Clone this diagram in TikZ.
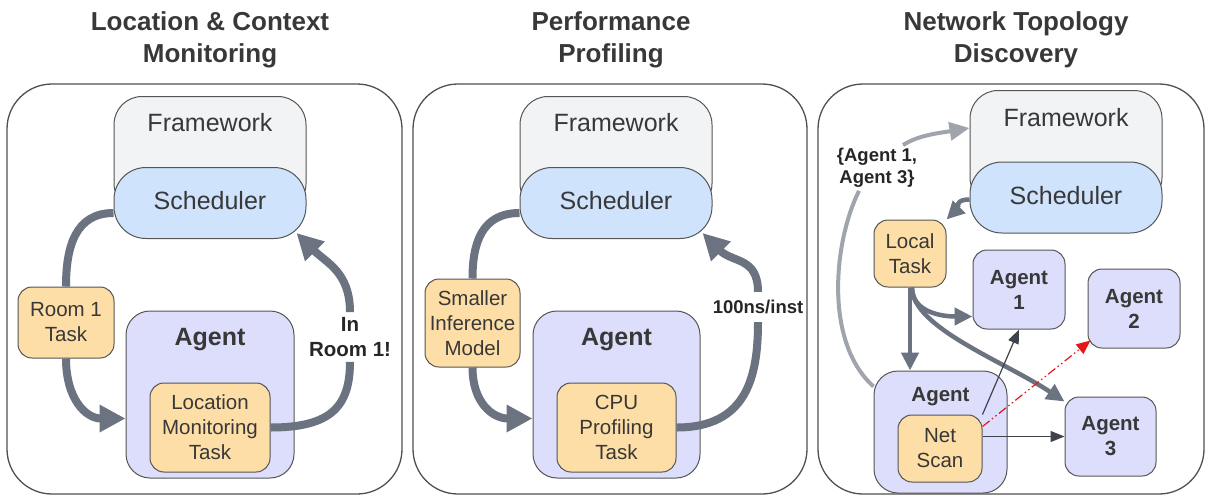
\documentclass[tikz,border=0pt]{standalone}
\usepackage{fontspec}
\setmainfont{Liberation Sans}
\usetikzlibrary{arrows.meta}
\definecolor{fwgray}{HTML}{F2F3F5}
\definecolor{schblue}{HTML}{CFE3FD}
\definecolor{taskorange}{HTML}{FDDEA6}
\definecolor{agentlav}{HTML}{DDDDFC}
\definecolor{boxline}{HTML}{555555}
\definecolor{panelline}{HTML}{505050}
\definecolor{txt}{HTML}{383838}
\definecolor{arrowgray}{HTML}{6B7280}
\definecolor{lightarrow}{HTML}{A0A5AD}
\definecolor{probeline}{HTML}{3F444C}
\definecolor{lostred}{HTML}{E8161B}
\newcommand{\titlefont}{\fontsize{26}{32}\selectfont\bfseries}
\newcommand{\boxfont}{\fontsize{25}{30}\selectfont}
\newcommand{\taskfont}{\fontsize{20.5}{25}\selectfont}
\newcommand{\lblfont}{\fontsize{18.5}{22}\selectfont\bfseries}

\begin{document}
\begin{tikzpicture}[x=1pt,y=-1pt,
  titletext/.style={align=center,font=\titlefont,text=txt,inner sep=0pt},
  panel/.style={draw=panelline,line width=1.3pt,rounded corners=45pt},
  fwbox/.style={draw=boxline,fill=fwgray,line width=1pt,rounded corners=28pt,
    minimum width=192pt,minimum height=115pt,anchor=north,
    label={[anchor=north,yshift=#1,inner sep=0pt,font=\boxfont,text=txt]north:Framework}},
  fwbox/.default=-17pt,
  schbox/.style={draw=boxline,fill=schblue,line width=1pt,rounded corners=32pt,
    minimum width=192pt,minimum height=71pt,font=\boxfont,text=txt,text height=18pt,text depth=5pt},
  taskbox/.style={draw=boxline,fill=taskorange,line width=1pt,rounded corners=14pt,
    align=center,font=\taskfont,text=txt,inner sep=2pt},
  agentbox/.style={draw=boxline,fill=agentlav,line width=1pt,rounded corners=24pt},
  agenttitle/.style={label={[anchor=north,yshift=-18pt,inner sep=0pt,font=\boxfont\bfseries,text=txt]north:Agent}},
  peerbox/.style={draw=boxline,fill=agentlav,line width=1pt,rounded corners=14pt,align=center,
    font=\taskfont\bfseries,text=txt,minimum width=92pt,minimum height=79pt},
  flowlbl/.style={align=center,font=\taskfont\bfseries,text=black!85,inner sep=5pt},
  flow/.style={draw=arrowgray,line width=8pt,-{Triangle[length=26pt,width=26pt]}},
  flowplain/.style={draw=arrowgray,line width=8pt},
  dispatch/.style={draw=arrowgray,line width=4.5pt,-{Triangle[length=18pt,width=17pt]}},
  report/.style={draw=lightarrow,line width=4pt,-{Triangle[length=20pt,width=18pt]}},
  reportplain/.style={draw=lightarrow,line width=4pt},
  probe/.style={draw=probeline,line width=1.2pt,-{Triangle[length=14pt,width=11pt]}},
  lost/.style={draw=lostred,line width=1.2pt,dash pattern=on 9pt off 3pt on 1.5pt off 3pt on 1.5pt off 3pt,
    -{Triangle[length=14pt,width=12pt]}}]
\useasboundingbox (0,0) rectangle (1206,496);

\node[titletext] (t1) at (210,40) {Location \& Context\\Monitoring};
\node[titletext] (t2) at (611,40) {Performance\\Profiling};
\node[titletext] (t3) at (1016,40) {Network Topology\\Discovery};

\draw[panel] (7,84) rectangle (402,494);
\draw[panel] (413,84) rectangle (807,494);
\draw[panel] (818,84) rectangle (1204,494);

\node[fwbox] (fw1) at (210,96) {};
\node[schbox] (sch1) at (210,203) {Scheduler};
\node[taskbox,minimum width=96pt,minimum height=71pt] (room) at (66,322.5) {Room 1\\Task};
\node[agentbox,agenttitle,minimum width=168pt,minimum height=167pt] (ag1) at (210,394.5) {};
\node[taskbox,minimum width=120pt,minimum height=89pt] (loc) at (210,427.5) {Location\\Monitoring\\Task};
\node[flowlbl] (lbl1) at (350,337) {In\\Room 1!};
\draw[flowplain] ([yshift=-10pt]sch1.west) .. controls +(-38,0) and +(0,-40) .. (room.north);
\draw[flow] (room.south) .. controls +(0,40) and +(-40,0) .. ([yshift=-24pt]ag1.west);
\draw[flowplain] (loc.east) .. controls +(60,0) and +(0,45) .. (lbl1.south);
\draw[flow] (lbl1.north) .. controls +(0,-40) and +(30,30) .. ([xshift=-10pt,yshift=6pt]sch1.south east);

\node[fwbox] (fw2) at (616,96) {};
\node[schbox] (sch2) at (616,203) {Scheduler};
\node[taskbox,minimum width=95pt,minimum height=88pt] (small) at (472.5,323) {Smaller\\Inference\\Model};
\node[agentbox,agenttitle,minimum width=167pt,minimum height=167pt] (ag2) at (616.5,394.5) {};
\node[taskbox,minimum width=119pt,minimum height=89pt] (cpu) at (616.5,427.5) {CPU\\Profiling\\Task};
\node[flowlbl,font=\lblfont,inner sep=8pt] (lbl2) at (758,307) {100ns/inst};
\draw[flowplain] ([yshift=-10pt]sch2.west) .. controls +(-38,0) and +(0,-35) .. (small.north);
\draw[flow] (small.south) .. controls +(0,35) and +(-40,0) .. ([yshift=-24pt]ag2.west);
\draw[flowplain] (cpu.east) .. controls +(70,0) and +(0,55) .. (lbl2.south);
\draw[flow] (lbl2.north) .. controls +(0,-35) and +(30,30) .. ([xshift=-10pt,yshift=6pt]sch2.south east);

\node[fwbox=-18pt] (fw3) at (1066,90) {};
\node[schbox] (sch3) at (1066,197.5) {Scheduler};
\node[taskbox,minimum width=72pt,minimum height=67pt] (local) at (910,253.5) {Local\\Task};
\node[peerbox] (peer1) at (1019,289.5) {Agent\\1};
\node[peerbox] (peer2) at (1134,308.5) {Agent\\2};
\node[peerbox,minimum width=91pt] (peer3) at (1110.5,436.5) {Agent\\3};
\node[agentbox,minimum width=133pt,minimum height=122pt,
  label={[anchor=north,yshift=-17pt,inner sep=0pt,font=\taskfont\bfseries,text=txt]north:Agent}] (home) at (940.5,432) {};
\node[taskbox,minimum width=84pt,minimum height=67pt] (scan) at (940,448.5) {Net\\Scan};
\node[flowlbl,font=\lblfont,inner sep=3pt] (lbl3) at (877,168) {\{Agent 1,\\Agent 3\}};
\draw[dispatch] ([yshift=-2pt]sch3.west) .. controls +(-15,0) and +(12,-12) .. (local.north east);
\draw[reportplain] ([yshift=-16pt]home.north west) .. controls +(-50,-45) and +(-25,50) .. ([xshift=-18pt]lbl3.south);
\draw[report] ([xshift=26pt]lbl3.north) .. controls +(15,-10) and +(-30,5) .. ([yshift=-38pt]fw3.north west);
\draw[dispatch] (local.south) -- (local.south |- home.north);
\draw[dispatch] ([xshift=2pt]local.south) .. controls +(0,25) and +(-30,0) .. ([yshift=-27pt]peer1.west);
\draw[dispatch] ([xshift=2pt]local.south) .. controls +(0,40) and +(-60,-40) .. ([yshift=-5pt]peer3.north west);
\draw[probe] (scan.north east) -- (peer1.south);
\draw[probe] (scan.east |- peer3.west) -- (peer3.west);
\draw[lost] ([yshift=-12pt]scan.north east) -- ([xshift=3pt,yshift=8pt]peer2.south west);
\end{tikzpicture}
\end{document}
